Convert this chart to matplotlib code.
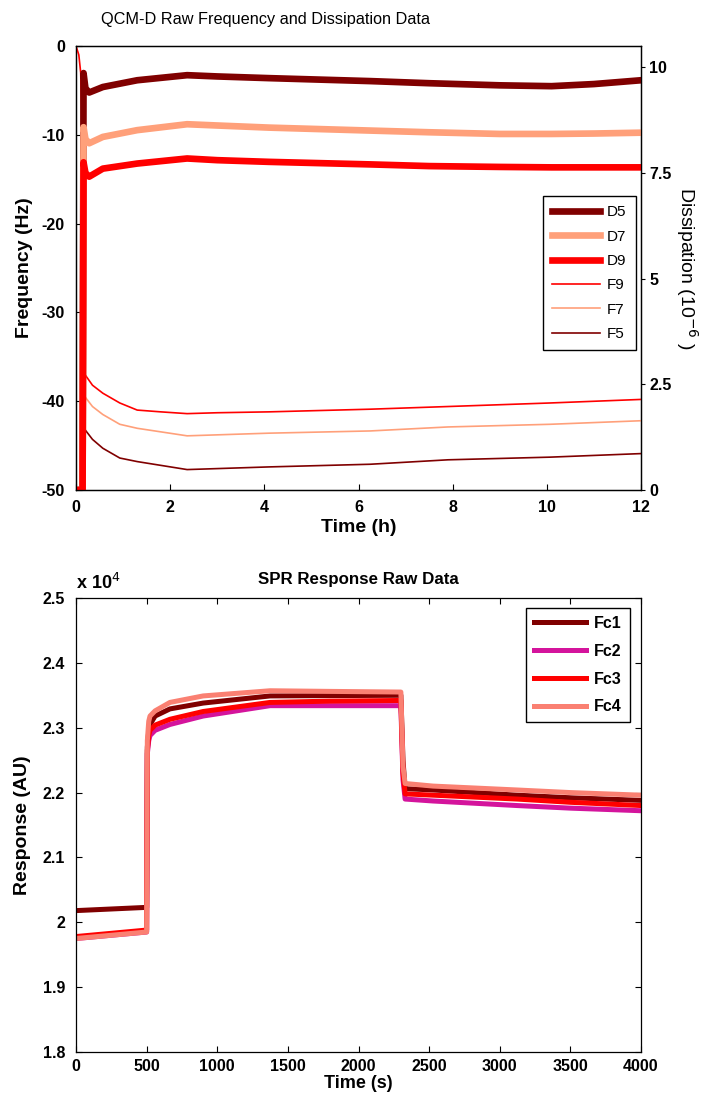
import matplotlib
matplotlib.use('Agg')
import matplotlib.pyplot as plt
from matplotlib.ticker import FuncFormatter

plt.rcParams['font.family'] = ['Liberation Sans', 'DejaVu Sans']
plt.rcParams['xtick.direction'] = 'in'
plt.rcParams['ytick.direction'] = 'in'
plt.rcParams['axes.linewidth'] = 0.9
plt.rcParams['axes.unicode_minus'] = False

# --- QCM-D data (time in hours) ---
qcm_time_d = [0, 0.14, 0.16, 0.20, 0.28, 0.57, 1.3, 2.36, 3.0, 4.1, 6.25, 7.5, 9.0, 10.1, 11.0, 12]
d5 = [0, 0, 9.86, 9.50, 9.40, 9.53, 9.69, 9.81, 9.78, 9.74, 9.67, 9.62, 9.57, 9.55, 9.60, 9.69]
d7 = [0, 0, 8.58, 8.30, 8.20, 8.35, 8.51, 8.65, 8.62, 8.57, 8.50, 8.46, 8.42, 8.42, 8.43, 8.45]
d9 = [0, 0, 7.75, 7.50, 7.41, 7.60, 7.72, 7.84, 7.80, 7.76, 7.70, 7.66, 7.64, 7.63, 7.63, 7.63]

qcm_time_f9 = [0, 0.06, 0.10, 0.13, 0.15, 0.17, 0.19, 0.35, 0.57, 0.93, 1.3, 1.8, 2.36, 3.0, 4.1, 6.25, 7.9, 10.07, 12]
f9 = [0, -1, -3, -10, -60, -60, -37.0, -38.2, -39.1, -40.2, -41.0, -41.2, -41.4, -41.3, -41.2, -40.9, -40.6, -40.2, -39.8]
qcm_time_f = [0, 0.15, 0.19, 0.35, 0.57, 0.93, 1.3, 2.36, 4.1, 6.25, 7.9, 10.07, 12]
f7 = [-60, -60, -39.5, -40.6, -41.5, -42.6, -43.05, -43.9, -43.6, -43.35, -42.9, -42.6, -42.2]
f5 = [-60, -60, -43.2, -44.3, -45.3, -46.4, -46.8, -47.7, -47.4, -47.1, -46.6, -46.3, -45.9]

# --- SPR data (time in seconds, response in AU) ---
spr_time = [0, 500, 505, 515, 524, 560, 665, 900, 1374, 1800, 2300, 2315, 2330, 2528, 3122, 3500, 4000]
fc1 = [20180, 20230, 22700, 22950, 23050, 23180, 23290, 23380, 23490, 23495, 23500, 22500, 22060, 22040, 21960, 21920, 21880]
fc2 = [19750, 19850, 22600, 22800, 22880, 22960, 23050, 23180, 23340, 23340, 23340, 22200, 21900, 21870, 21800, 21760, 21720]
fc3 = [19780, 19880, 22650, 22880, 22960, 23040, 23130, 23250, 23390, 23410, 23420, 22300, 21980, 21960, 21900, 21850, 21800]
fc4 = [19750, 19850, 22800, 23100, 23180, 23260, 23390, 23490, 23570, 23560, 23550, 22400, 22140, 22100, 22040, 22000, 21960]

DARK = '#800000'
SALMON = '#FFA07A'
RED = '#FF0000'
MAGENTA = '#D4149C'
PINK = '#FA8072'

fig = plt.figure(figsize=(7.01, 10.95), dpi=100)

# ---------- top: QCM-D ----------
ax1 = fig.add_axes([76 / 701, 1 - 490 / 1095, 565 / 701, 444 / 1095])
ax2 = ax1.twinx()

ax1.plot(qcm_time_f9, f9, color=RED, lw=1.2, zorder=3)
ax1.plot(qcm_time_f, f7, color=SALMON, lw=1.2, zorder=3)
ax1.plot(qcm_time_f, f5, color=DARK, lw=1.2, zorder=3)

l_d5, = ax2.plot(qcm_time_d, d5, color=DARK, lw=4.8, label='D5')
l_d7, = ax2.plot(qcm_time_d, d7, color=SALMON, lw=4.8, label='D7')
l_d9, = ax2.plot(qcm_time_d, d9, color=RED, lw=4.8, label='D9')
# proxy handles for thin F lines so the legend lives on the top axes
l_f9, = ax2.plot([], [], color=RED, lw=1.2, label='F9')
l_f7, = ax2.plot([], [], color=SALMON, lw=1.2, label='F7')
l_f5, = ax2.plot([], [], color=DARK, lw=1.2, label='F5')

ax1.set_xlim(0, 12)
ax1.set_ylim(-50, 0)
ax2.set_ylim(0, 10.5)
ax1.set_xticks(range(0, 13, 2))
ax1.set_yticks([0, -10, -20, -30, -40, -50])
ax2.set_yticks([0, 2.5, 5, 7.5, 10])
ax2.yaxis.set_major_formatter(FuncFormatter(lambda v, p: '%g' % v))

ax1.tick_params(axis='x', labelsize=11.5, length=4, width=0.8, pad=7)
ax1.tick_params(axis='y', labelsize=11.5, length=4, width=0.8, pad=8)
ax2.tick_params(axis='y', labelsize=11.5, length=3, width=0.8, pad=3, direction='out')
for a in (ax1, ax2):
    for lab in a.get_xticklabels() + a.get_yticklabels():
        lab.set_fontweight('bold')

ax1.set_title('QCM-D Raw Frequency and Dissipation Data', fontsize=11.7, x=0.336, pad=16)
ax1.set_xlabel('Time (h)', fontsize=14, fontweight='bold', labelpad=3)
ax1.set_ylabel('Frequency (Hz)', fontsize=14, fontweight='bold', labelpad=6)
ax2.set_ylabel('Dissipation (10$^{-6}$ )', fontsize=14, rotation=270, labelpad=20)

ax2.legend(handles=[l_d5, l_d7, l_d9, l_f9, l_f7, l_f5], loc='upper right',
           bbox_to_anchor=(0.991, 0.662), borderaxespad=0, fontsize=11, frameon=True,
           fancybox=False, edgecolor='black', framealpha=1, handlelength=3.1,
           labelspacing=0.68, borderpad=0.6, handletextpad=0.5)

# ---------- bottom: SPR ----------
ax3 = fig.add_axes([76 / 701, 1 - 1052 / 1095, 565 / 701, 454 / 1095])
ax3.plot(spr_time, fc1, color=DARK, lw=3.6, label='Fc1')
ax3.plot(spr_time, fc2, color=MAGENTA, lw=3.6, label='Fc2')
ax3.plot(spr_time, fc3, color=RED, lw=3.6, label='Fc3')
ax3.plot(spr_time, fc4, color=PINK, lw=3.6, label='Fc4')

ax3.set_xlim(0, 4000)
ax3.set_ylim(18000, 25000)
ax3.set_xticks(range(0, 4001, 500))
ax3.set_yticks(range(18000, 25001, 1000))
ax3.yaxis.set_major_formatter(FuncFormatter(lambda v, p: '%g' % (v / 1e4)))
ax3.tick_params(axis='x', labelsize=11.5, length=4, width=0.8, top=True, pad=5)
ax3.tick_params(axis='y', labelsize=11.5, length=4, width=0.8, right=True, pad=8)
for lab in ax3.get_xticklabels() + ax3.get_yticklabels():
    lab.set_fontweight('bold')
ax3.text(0.0, 1.012, 'x 10$^{4}$', transform=ax3.transAxes, fontsize=13,
         fontweight='bold', ha='left', va='bottom')

ax3.set_title('SPR Response Raw Data', fontsize=12.2, fontweight='bold', pad=10)
ax3.set_xlabel('Time (s)', fontsize=13, fontweight='bold', labelpad=1)
ax3.set_ylabel('Response (AU)', fontsize=14, fontweight='bold', labelpad=8)

leg = ax3.legend(loc='upper right', bbox_to_anchor=(0.9805, 0.978), borderaxespad=0,
                 fontsize=11.5, frameon=True, fancybox=False, edgecolor='black',
                 framealpha=1, handlelength=3.3, labelspacing=0.8, borderpad=0.5,
                 handletextpad=0.5)
for t in leg.get_texts():
    t.set_fontweight('bold')

fig.savefig('out.png', dpi=100)
